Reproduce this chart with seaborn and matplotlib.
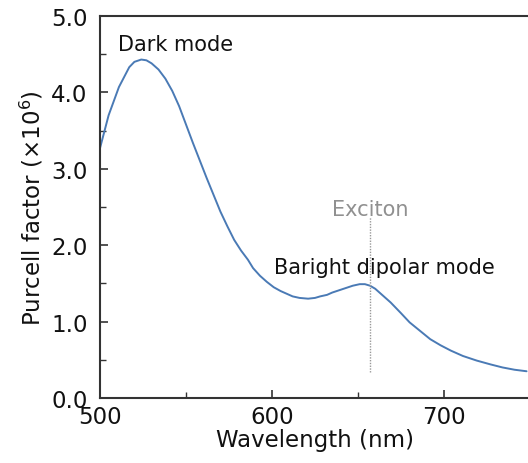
import matplotlib
matplotlib.use("Agg")
import matplotlib.pyplot as plt
import seaborn as sns
import pandas as pd
from matplotlib.ticker import MultipleLocator

wavelength = [500, 505, 511, 517, 520, 524, 527, 530, 534, 538, 542, 546, 550, 554, 558, 562,
              566, 570, 574, 578, 582, 586, 589, 593, 597, 601, 605, 609, 612, 616, 621,
              625, 628, 632, 635, 639, 643, 647, 651, 654, 657, 660, 663, 666, 669, 672,
              675, 680, 686, 692, 698, 704, 711, 719, 727, 734, 741, 748]
purcell = [3.27, 3.70, 4.07, 4.33, 4.40, 4.43, 4.42, 4.38, 4.30, 4.18, 4.02, 3.82, 3.58, 3.34,
           3.11, 2.88, 2.66, 2.44, 2.25, 2.07, 1.93, 1.81, 1.70, 1.60, 1.52, 1.45, 1.40,
           1.36, 1.33, 1.31, 1.30, 1.31, 1.33, 1.35, 1.38, 1.41, 1.44, 1.47, 1.49, 1.49,
           1.47, 1.43, 1.37, 1.31, 1.25, 1.18, 1.11, 0.99, 0.88, 0.77, 0.69, 0.62, 0.55,
           0.49, 0.44, 0.40, 0.37, 0.35]
exciton_wl = 657
exciton_range = [0.34, 2.37]
labels = {"dark": "Dark mode", "bright": "Baright dipolar mode", "exciton": "Exciton"}

sns.set_theme(style="white")
plt.rcParams['font.family'] = ['DejaVu Sans']

df = pd.DataFrame({"Wavelength": wavelength, "Purcell": purcell})

fig = plt.figure(figsize=(5.28, 4.64), dpi=100)
ax = fig.add_axes([100/528, 65/464, 430/528, 382/464])

sns.lineplot(data=df, x="Wavelength", y="Purcell", ax=ax, color="#4a7ab5", linewidth=1.4)
ax.vlines(exciton_wl, exciton_range[0], exciton_range[1], colors="#999999",
          linestyles=(0, (1, 1)), linewidth=1.0)

ax.set_xlim(500, 750)
ax.set_ylim(0, 5)
ax.xaxis.set_major_locator(MultipleLocator(100))
ax.xaxis.set_minor_locator(MultipleLocator(50))
ax.yaxis.set_major_locator(MultipleLocator(1))
ax.yaxis.set_minor_locator(MultipleLocator(0.5))
ax.yaxis.set_major_formatter(matplotlib.ticker.FormatStrFormatter('%.1f'))

for s in ax.spines.values():
    s.set_color("#333333")
    s.set_linewidth(1.5)
ax.tick_params(which="both", direction="in", colors="#333333", labelcolor="#111111",
               bottom=True, left=True, top=False, right=False)
ax.tick_params(which="major", length=6, width=1.2, labelsize=16.5)
ax.tick_params(which="minor", length=4, width=1.0)
ax.tick_params(axis="y", which="major", pad=9)
ax.tick_params(axis="x", which="major", pad=5)

ax.set_xlabel("Wavelength (nm)", fontsize=16.5, color="#111111", labelpad=0)
ax.set_ylabel("Purcell factor (×10$^6$)", fontsize=16.5, color="#111111", labelpad=4)

ax.text(510.5, 4.64, labels["dark"], fontsize=15, color="#111111", va="center", ha="left")
ax.text(601, 1.72, labels["bright"], fontsize=15, color="#111111", va="center", ha="left")
ax.text(657, 2.48, labels["exciton"], fontsize=15, color="#909090", va="center", ha="center")

fig.savefig("out.png", dpi=100)
